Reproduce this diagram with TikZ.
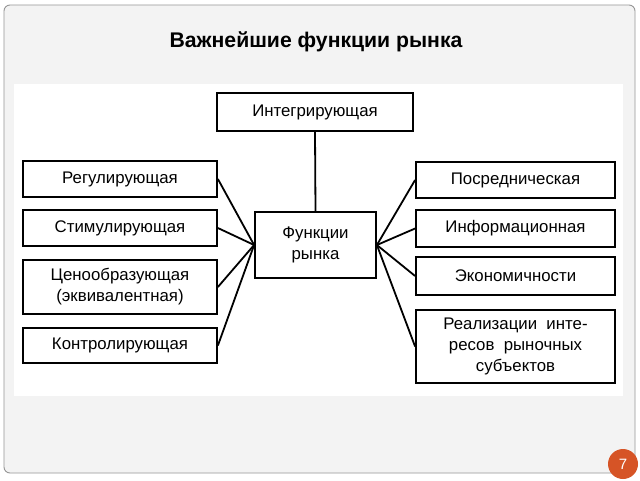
\documentclass[tikz,border=0pt]{standalone}
\usepackage{fontspec}
\setmainfont{Liberation Sans}
\definecolor{slidebg}{RGB}{243,243,243}
\definecolor{slideline}{RGB}{150,150,150}
\definecolor{badge}{RGB}{214,84,38}
\tikzset{
  fbox/.style={draw=black, line width=1.8pt, fill=white, inner sep=0pt, align=center,
    font=\fontsize{16.8}{21}\selectfont},
  conn/.style={draw=black, line width=1.8pt},
}
\begin{document}
\begin{tikzpicture}[x=1pt,y=-1pt]
\useasboundingbox (0,0) rectangle (640,480);
\fill[white] (0,0) rectangle (640,480);
\draw[slideline, fill=slidebg, line width=0.9pt, rounded corners=6pt] (4,5) rectangle (635,473);
\fill[white] (14,84) rectangle (623,396);
\node[font=\bfseries\fontsize{21.2}{25}\selectfont] (title) at (316,42) {Важнейшие функции рынка};
\node[fbox, minimum width=196pt, minimum height=38pt] (integ) at (315,112) {Интегрирующая};
\node[fbox, minimum width=121pt, minimum height=66pt] (c) at (315.5,245) {Функции\\рынка};
\node[fbox, minimum width=194pt, minimum height=36pt] (reg) at (120,179) {Регулирующая};
\node[fbox, minimum width=194pt, minimum height=36pt] (stim) at (120,228) {Стимулирующая};
\node[fbox, minimum width=194pt, minimum height=54pt] (price) at (120,287) {Ценообразующая\\(эквивалентная)};
\node[fbox, minimum width=194pt, minimum height=35pt] (ctrl) at (120,345.5) {Контролирующая};
\node[fbox, minimum width=199pt, minimum height=36pt] (posr) at (515.5,180) {Посредническая};
\node[fbox, minimum width=199pt, minimum height=37pt] (info) at (515.5,228.5) {Информационная};
\node[fbox, minimum width=199pt, minimum height=38pt] (econ) at (515.5,276) {Экономичности};
\node[fbox, minimum width=199pt, minimum height=73pt] (real) at (515.5,346.5) {Реализации\ \ инте-\\ресов\ \ рыночных\\субъектов};
\draw[conn] (integ.south) -- (c.north);
\foreach \n in {reg,stim,price,ctrl} \draw[conn] (\n.east) -- (c.west);
\foreach \n in {posr,info,econ,real} \draw[conn] (\n.west) -- (c.east);
\node[circle, fill=badge, minimum size=30pt, inner sep=0pt, text=white, font=\fontsize{15}{17}\selectfont] (pg) at (623,464) {7};
\end{tikzpicture}
\end{document}
